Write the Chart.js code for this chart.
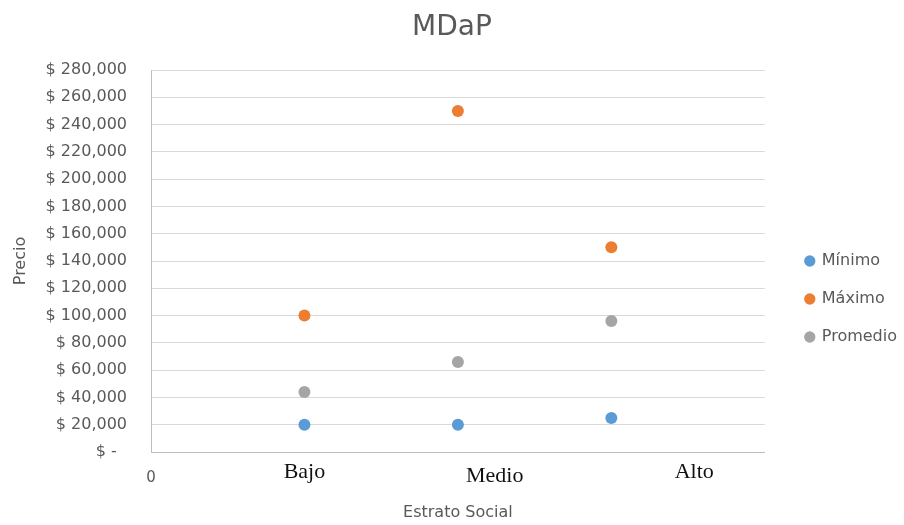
<!DOCTYPE html>
<html>
<head>
<meta charset="utf-8">
<script src="https://cdn.jsdelivr.net/npm/chart.js@4"></script>
<style>
  html, body { margin: 0; padding: 0; background: #ffffff; }
  #wrap { width: 904px; height: 525px; position: relative; }
</style>
</head>
<body>
<div id="wrap"><canvas id="c"></canvas></div>
<script>
// ---- data ----
const categories = ['Bajo', 'Medio', 'Alto'];
const xPositions = [1, 2, 3];
const minimo   = [20000, 20000, 25000];
const maximo   = [100000, 250000, 150000];
const promedio = [44000, 66000, 96000];
const xTickLabels = ['0', 'Bajo', 'Medio', 'Alto'];
const xTickValues = [0, 1, 2.24, 3.54];
const seriesNames = ['Mínimo', 'Máximo', 'Promedio'];
const seriesColors = ['#5B9BD5', '#ED7D31', '#A5A5A5'];

const toPoints = arr => xPositions.map((x, i) => ({ x: x, y: arr[i] }));
const seriesValues = [minimo, maximo, promedio];

// nudge legend and title boxes after layout
const boxShift = {
  id: 'boxShift',
  afterLayout(chart) {
    const l = chart.legend;
    if (l) {
      const dx = 19, dy = 36.5;
      l.left += dx; l.right += dx;
      l.top += dy; l.bottom += dy;
    }
    const t = chart.titleBlock;
    if (t) {
      const tx = 8;
      t.left += tx; t.right += tx;
    }
  }
};

const gray = '#595959';

new Chart(document.getElementById('c'), {
  type: 'scatter',
  data: {
    datasets: seriesValues.map((vals, i) => ({
      label: seriesNames[i],
      data: toPoints(vals),
      backgroundColor: seriesColors[i],
      borderColor: seriesColors[i],
      borderWidth: 0,
      pointRadius: 6,
      pointHoverRadius: 6
    }))
  },
  plugins: [boxShift],
  options: {
    responsive: true,
    maintainAspectRatio: false,
    animation: false,
    layout: { padding: { left: 0, right: 16, top: 0, bottom: 0 } },
    plugins: {
      tooltip: { enabled: false },
      title: {
        display: true,
        text: 'MDaP',
        color: gray,
        font: { family: 'DejaVu Sans', size: 28, weight: 'normal' },
        padding: { top: 10.7, bottom: 25.7 }
      },
      legend: {
        display: true,
        position: 'right',
        align: 'center',
        labels: {
          usePointStyle: true,
          pointStyle: 'circle',
          boxWidth: 8,
          boxHeight: 8,
          padding: 22,
          color: gray,
          font: { family: 'DejaVu Sans', size: 16 }
        }
      }
    },
    scales: {
      x: {
        type: 'linear',
        min: 0,
        max: 4,
        afterFit: s => { s.height = 73; },
        afterBuildTicks: s => { s.ticks = xTickValues.map(v => ({ value: v })); },
        grid: { display: false, drawTicks: false },
        border: { display: true, color: '#bfbfbf', width: 1 },
        ticks: {
          autoSkip: false,
          maxRotation: 0,
          padding: 8,
          callback: (v, i) => xTickLabels[i],
          color: ctx => ctx.index === 0 ? gray : '#111111',
          font: ctx => ctx.index === 0
            ? { family: 'DejaVu Sans', size: 15, lineHeight: 36 / 15 }
            : { family: 'Liberation Serif', size: 22, lineHeight: ctx.index === 2 ? 32 / 22 : 24 / 22 }
        },
        title: {
          display: true,
          text: 'Estrato Social',
          color: gray,
          font: { family: 'DejaVu Sans', size: 16 },
          padding: { top: 0, bottom: 2.4 }
        }
      },
      y: {
        min: 0,
        max: 280000,
        afterFit: s => { s.width = 151; },
        grid: { color: '#d9d9d9', lineWidth: 1, drawTicks: false },
        border: { display: true, color: '#bfbfbf', width: 1 },
        ticks: {
          stepSize: 20000,
          padding: 24,
          color: gray,
          font: { family: 'DejaVu Sans', size: 16 },
          callback: v => v === 0 ? '$ -  ' : '$ ' + Number(v).toLocaleString('en-US')
        },
        title: {
          display: true,
          text: 'Precio',
          color: gray,
          font: { family: 'DejaVu Sans', size: 16 },
          padding: { top: 11, bottom: 0 }
        }
      }
    }
  }
});
</script>
</body>
</html>
